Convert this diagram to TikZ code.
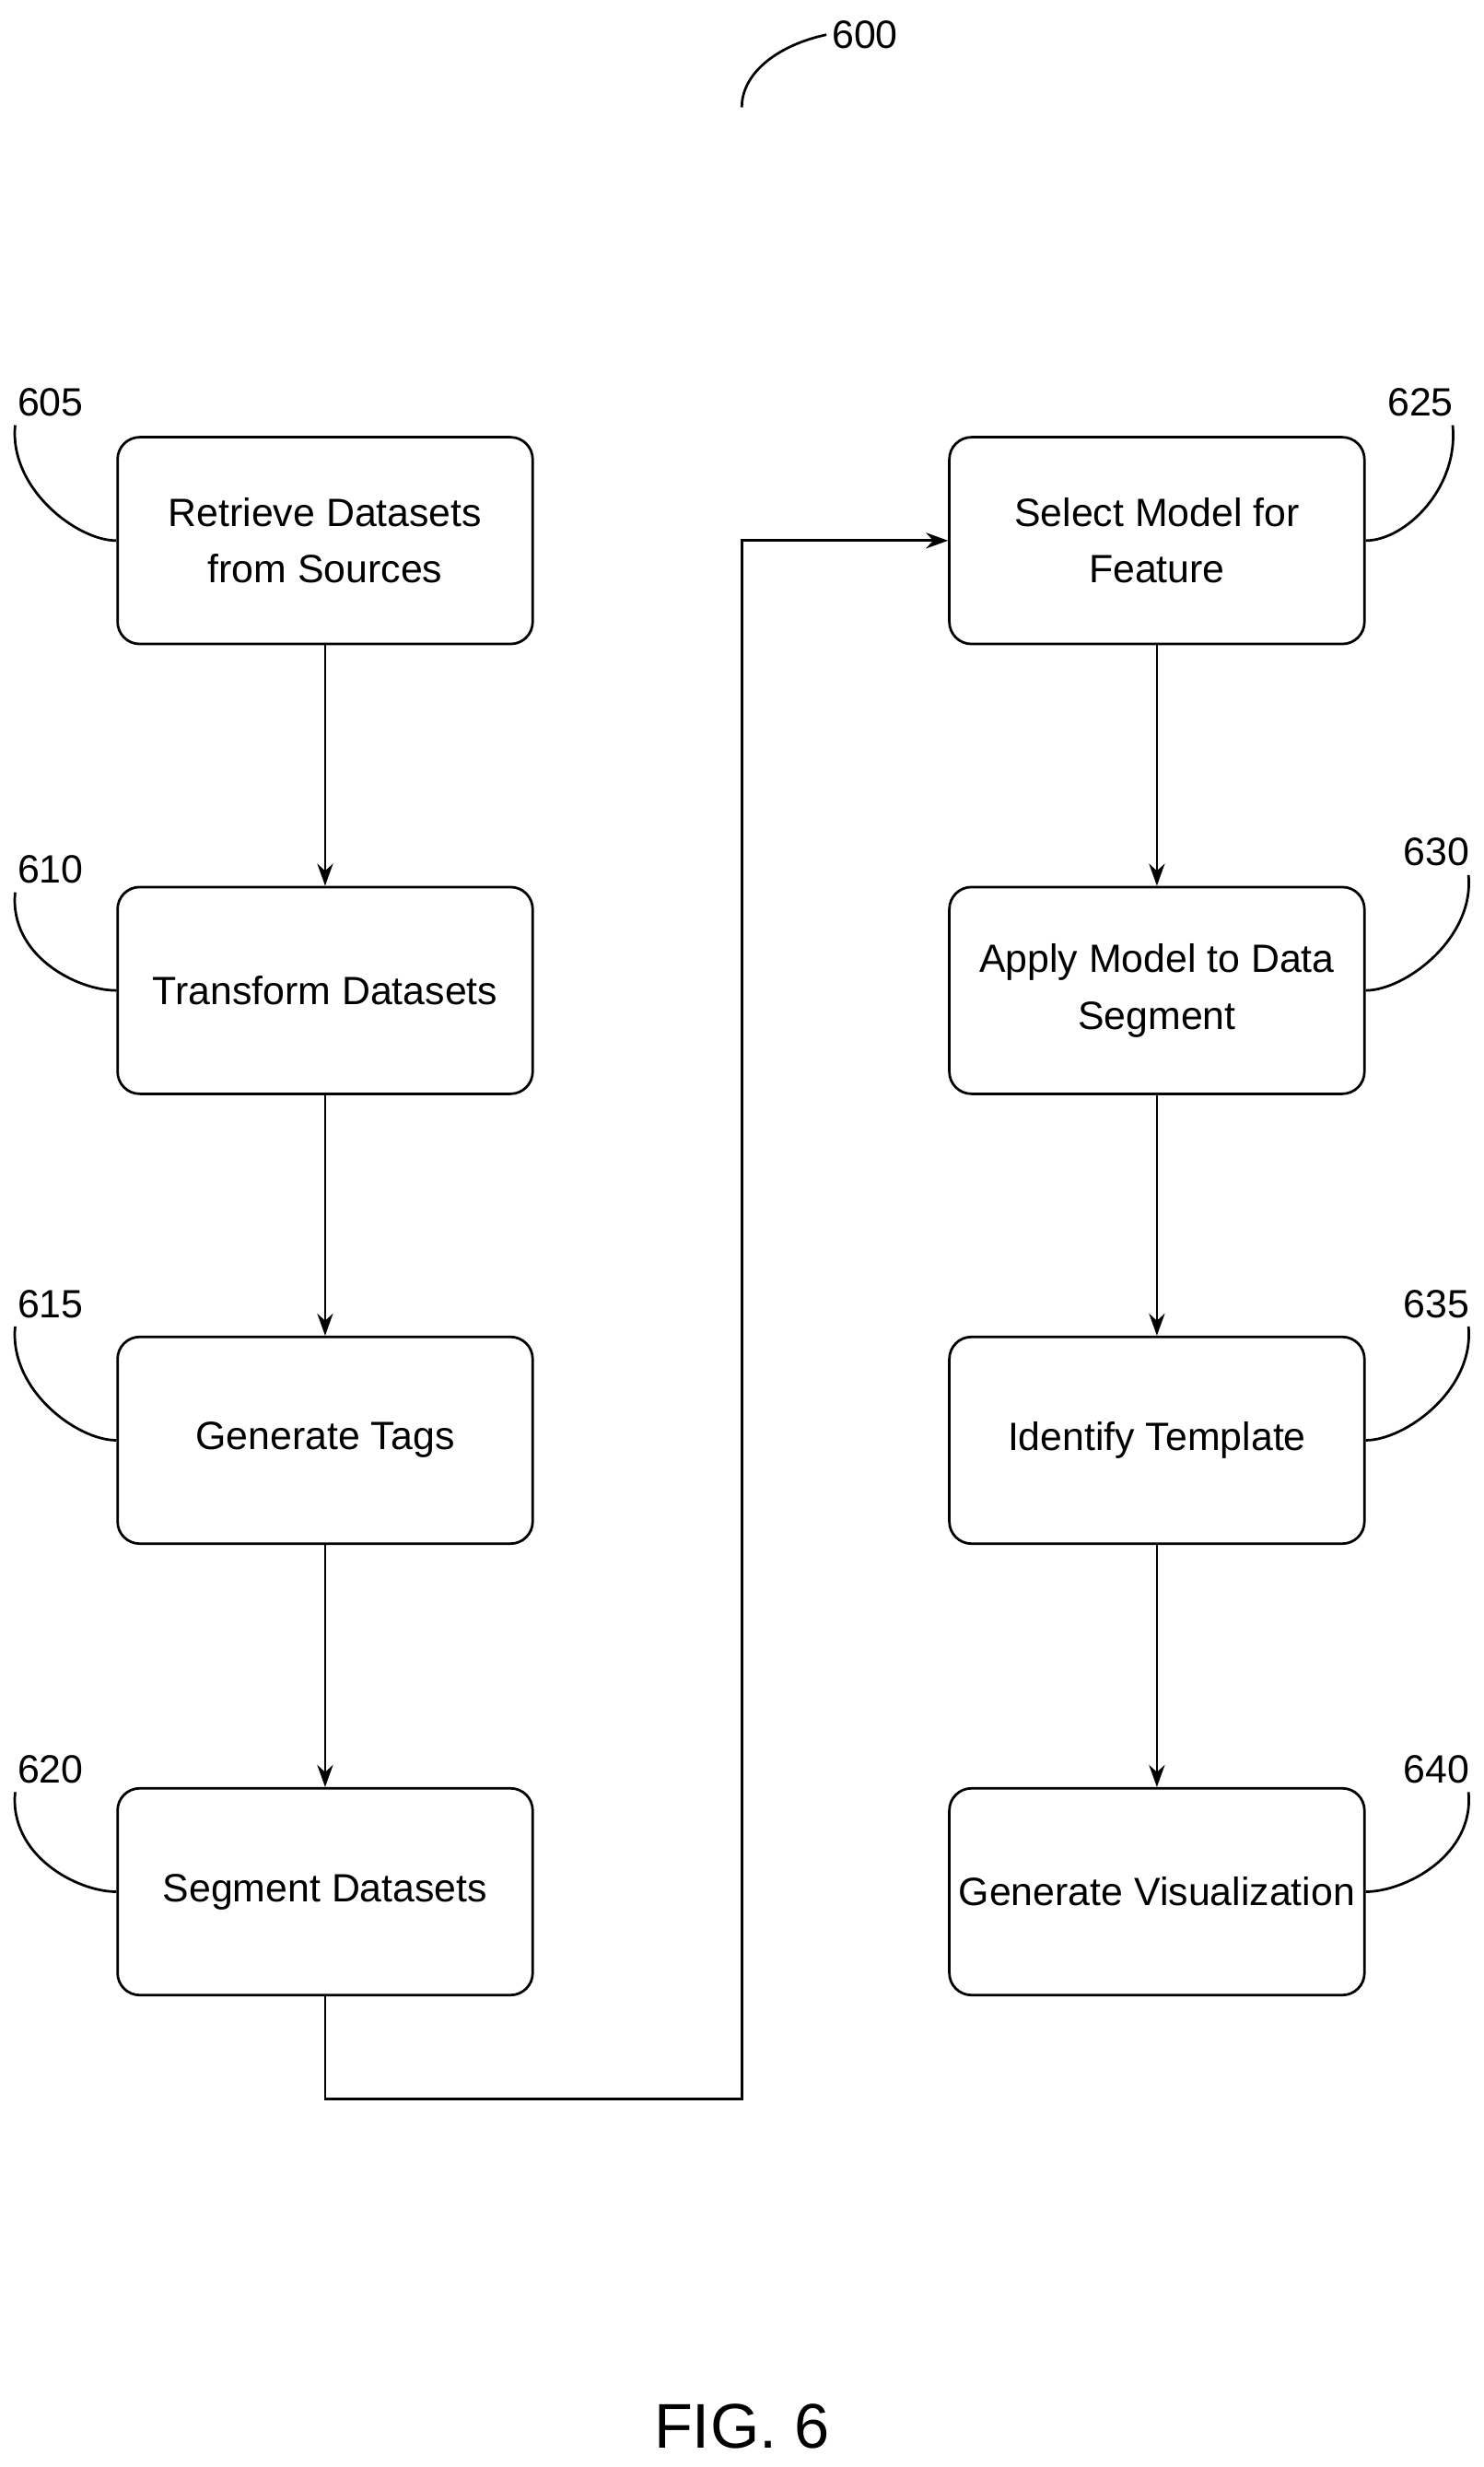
\documentclass[tikz,border=0pt]{standalone}
\usepackage{fontspec}
\setmainfont{Liberation Sans}
\usetikzlibrary{arrows.meta}
\begin{document}
\begin{tikzpicture}[x=1pt,y=-1pt,
  box/.style={draw,line width=1.6pt,rounded corners=14pt,minimum width=263pt,minimum height=131pt,align=center,font=\fontsize{25}{36}\selectfont,inner sep=0pt},
  lab/.style={font=\fontsize{25}{30}\selectfont},
  ln/.style={line width=1.6pt},
  arr/.style={ln,-{Stealth[length=14pt,width=10pt]}}]
\useasboundingbox (0,0) rectangle (940,1563);
\node[box] (b605) at (206,342.5) {Retrieve Datasets\\from Sources};
\node[box] (b610) at (206,627.5) {Transform Datasets};
\node[box] (b615) at (206,912.5) {Generate Tags};
\node[box] (b620) at (206,1198.5) {Segment Datasets};
\node[box] (b625) at (733,342.5) {Select Model for\\Feature};
\node[box] (b630) at (733,627.5) {Apply Model to Data\\Segment};
\node[box] (b635) at (733,912.5) {Identify Template};
\node[box] (b640) at (733,1198.5) {Generate Visualization};
\draw[arr] (b605) -- (b610);
\draw[arr] (b610) -- (b615);
\draw[arr] (b615) -- (b620);
\draw[arr] (b625) -- (b630);
\draw[arr] (b630) -- (b635);
\draw[arr] (b635) -- (b640);
\coordinate (c1) at (206,1330);
\coordinate (c2) at (470,1330);
\coordinate (c3) at (470,342.5);
\draw[arr] (b620.south) -- (c1) -- (c2) -- (c3) -- (b625.west);
% labels
\node[lab] (l605) at (32,255) {605};
\node[lab] (l610) at (32,551) {610};
\node[lab] (l615) at (32,826) {615};
\node[lab] (l620) at (32,1121) {620};
\node[lab] (l625) at (900,255) {625};
\node[lab] (l630) at (910,540) {630};
\node[lab] (l635) at (910,826) {635};
\node[lab] (l640) at (910,1121) {640};
\node[lab] (l600) at (548,22) {600};
\foreach \l/\b in {605/b605,610/b610,615/b615,620/b620}{
  \draw[ln] (l\l.south west)++(2,2) .. controls +(-4,40) and +(-25,0) .. (\b.west);}
\foreach \l/\b in {625/b625,630/b630,635/b635,640/b640}{
  \draw[ln] (l\l.south east)++(-4,2) .. controls +(4,40) and +(25,0) .. (\b.east);}
\draw[ln] (470,68) .. controls (470,45) and (495,28) .. (l600.west);
\node[font=\fontsize{40}{48}\selectfont] (fig) at (470,1537) {FIG. 6};
\end{tikzpicture}
\end{document}
